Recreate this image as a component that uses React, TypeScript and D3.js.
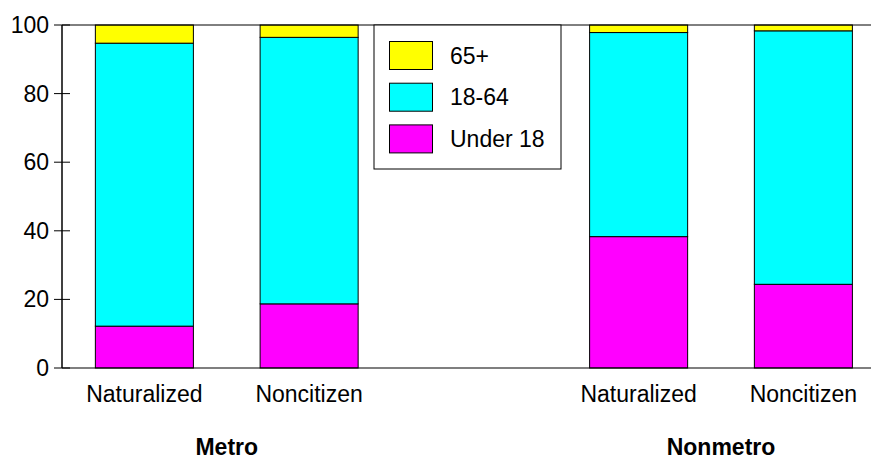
import React from "react";
import * as d3 from "d3";

const categories = ["Naturalized", "Noncitizen", "", "Naturalized", "Noncitizen"];
const keys = ["m-nat", "m-non", "gap", "n-nat", "n-non"];
const groups = ["Metro", "Nonmetro"];
const groupMembers = [["m-nat", "m-non"], ["n-nat", "n-non"]];
const under18 = [12.2, 18.7, null, 38.3, 24.4];
const age18to64 = [82.5, 77.7, null, 59.5, 73.9];
const age65plus = [5.3, 3.6, null, 2.2, 1.7];
const seriesNames = ["65+", "18-64", "Under 18"];
const seriesColors = ["#ffff00", "#00ffff", "#ff00ff"];
const yTicks = [0, 20, 40, 60, 80, 100];

const W = 871;
const H = 463;
const FONT = "'Liberation Sans', Arial, Helvetica, sans-serif";

export default function App() {
  const x0 = 62;
  const y = d3.scaleLinear().domain([0, 100]).range([368, 25]);
  const x = d3
    .scaleBand<string>()
    .domain(keys)
    .range([x0, x0 + 5 * 164.75])
    .paddingInner(0.405)
    .paddingOuter(0.2025);

  const rows = keys.map((k, i) => ({
    key: k,
    under: under18[i],
    mid: age18to64[i],
    old: age65plus[i],
  }));
  const stackOrder = ["under", "mid", "old"];
  const colorFor: Record<string, string> = { under: seriesColors[2], mid: seriesColors[1], old: seriesColors[0] };
  const stacked = d3
    .stack<any>()
    .keys(stackOrder)
    .value((d: any, k: string) => (d[k] == null ? 0 : d[k]))(rows);

  const legendX = 374, legendY = 25, legendW = 187, legendH = 144;

  return (
    <svg
      width={W}
      height={H}
      style={{ position: "absolute", left: 0, top: 0, background: "#fff" }}
      fontFamily={FONT}
    >
      {/* bars */}
      {stacked.map((s) => (
        <g key={s.key}>
          {s.map((d, i) =>
            rows[i].under == null ? null : (
              <rect
                key={i}
                x={x(rows[i].key)!}
                width={x.bandwidth()}
                y={y(d[1])}
                height={y(d[0]) - y(d[1])}
                fill={colorFor[s.key]}
                stroke="#000"
                strokeWidth={1}
              />
            )
          )}
        </g>
      ))}
      {/* frame lines */}
      <line x1={x0} x2={W} y1={y(100)} y2={y(100)} stroke="#000" strokeWidth={1} />
      <line x1={x0} x2={W} y1={y(0)} y2={y(0)} stroke="#000" strokeWidth={1.2} />
      <line x1={x0} x2={x0} y1={y(100)} y2={y(0)} stroke="#000" strokeWidth={1.5} />
      {/* y ticks */}
      {yTicks.map((t) => (
        <g key={t}>
          <line x1={x0 - 8} x2={x0 + 8} y1={y(t)} y2={y(t)} stroke="#000" strokeWidth={1} />
          <text x={x0 - 13} y={y(t)} dy="0.35em" textAnchor="end" fontSize={23} fill="#000">
            {t}
          </text>
        </g>
      ))}
      {/* category labels */}
      {keys.map((k, i) =>
        categories[i] ? (
          <text
            key={k}
            x={x(k)! + x.bandwidth() / 2}
            y={402}
            textAnchor="middle"
            fontSize={23}
            fill="#000"
          >
            {categories[i]}
          </text>
        ) : null
      )}
      {/* group labels */}
      {groups.map((g, gi) => {
        const a = x(groupMembers[gi][0])! + x.bandwidth() / 2;
        const b = x(groupMembers[gi][1])! + x.bandwidth() / 2;
        return (
          <text key={g} x={(a + b) / 2} y={455} textAnchor="middle" fontSize={23} fontWeight="bold" fill="#000">
            {g}
          </text>
        );
      })}
      {/* legend */}
      <rect x={legendX} y={legendY} width={legendW} height={legendH} fill="#fff" stroke="#000" strokeWidth={1} />
      {seriesNames.map((n, i) => (
        <g key={n}>
          <rect
            x={legendX + 15.5}
            y={legendY + 16.5 + i * 41.7}
            width={43}
            height={28}
            fill={seriesColors[i]}
            stroke="#000"
            strokeWidth={1}
          />
          <text
            x={legendX + 76}
            y={legendY + 16.5 + i * 41.7 + 14}
            dy="0.35em"
            fontSize={23}
            fill="#000"
          >
            {n}
          </text>
        </g>
      ))}
    </svg>
  );
}
